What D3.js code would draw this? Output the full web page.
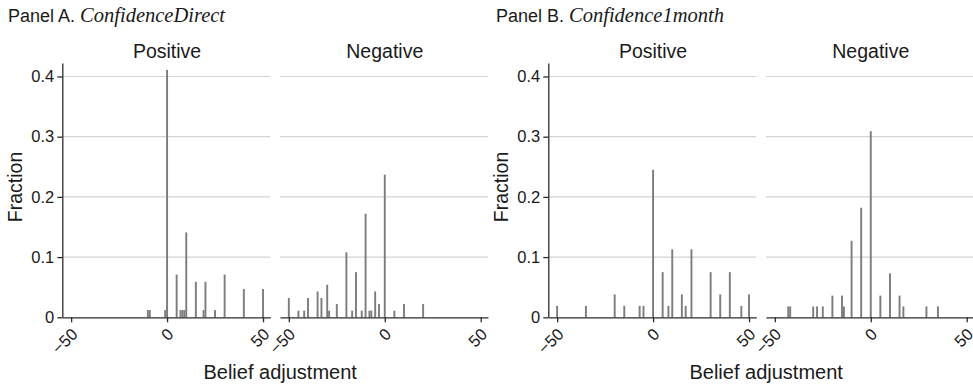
<!DOCTYPE html>
<html>
<head>
<meta charset="utf-8">
<script src="https://cdn.jsdelivr.net/npm/d3@7"></script>
<style>
  html, body { margin: 0; padding: 0; background: #fff; }
  svg { display: block; }
  text { font-family: "Liberation Sans", Arial, Helvetica, sans-serif; fill: #1a1a1a; }
</style>
</head>
<body>
<svg id="chart" width="973" height="388"></svg>
<script>
// ---- Data ----
const xTicks = [-50, 0, 50];
const yTicks = [0, 0.1, 0.2, 0.3, 0.4];
const groups = ["Positive", "Negative"];

// Panel A. ConfidenceDirect
const aPosX = [-10, -9, -1, 0, 5, 7, 8, 9, 10, 15, 19, 20, 25, 30, 40, 50];
const aPosY = [0.012, 0.012, 0.012, 0.411, 0.071, 0.012, 0.012, 0.012, 0.141, 0.059, 0.012, 0.059, 0.012, 0.071, 0.047, 0.047];
const aNegX = [-50, -45, -42, -40, -35, -33, -30, -29, -25, -20, -17, -15, -12, -10, -8, -7, -5, -3, 0, 5, 10, 20];
const aNegY = [0.032, 0.011, 0.011, 0.032, 0.043, 0.032, 0.054, 0.011, 0.022, 0.108, 0.011, 0.075, 0.011, 0.172, 0.011, 0.011, 0.043, 0.022, 0.237, 0.011, 0.022, 0.022];

// Panel B. Confidence1month
const bPosX = [-50, -35, -20, -15, -7, -5, 0, 5, 8, 10, 15, 17, 20, 30, 35, 40, 46, 50];
const bPosY = [0.019, 0.019, 0.038, 0.019, 0.019, 0.019, 0.245, 0.075, 0.019, 0.113, 0.038, 0.019, 0.113, 0.075, 0.038, 0.075, 0.019, 0.038];
const bNegX = [-43, -42, -30, -28, -25, -20, -15, -14, -10, -5, 0, 5, 10, 15, 17, 29, 35];
const bNegY = [0.018, 0.018, 0.018, 0.018, 0.018, 0.036, 0.036, 0.018, 0.127, 0.182, 0.309, 0.036, 0.073, 0.036, 0.018, 0.018, 0.018];

const panels = [
  { prefix: "Panel A. ", name: "ConfidenceDirect", left: 62.3, titleX: 8, series: [[aPosX, aPosY], [aNegX, aNegY]] },
  { prefix: "Panel B. ", name: "Confidence1month", left: 548.3, titleX: 496, series: [[bPosX, bPosY], [bNegX, bNegY]] }
];

// ---- Layout ----
const subW = 208, subGap = 9.7;
const yBase = 317.3, yTop = 63;
const xDomain = [-54.6, 53.8];
const barColor = "#7d7d7d", gridColor = "#d3d3d3", axisColor = "#2b2b2b";

const svg = d3.select("#chart");
const y = d3.scaleLinear().domain([0, 0.4224]).range([yBase, yTop]);

panels.forEach(p => {
  const g = svg.append("g");
  // Panel title
  const t = g.append("text").attr("x", p.titleX).attr("y", 22).style("font-size", "18px");
  t.append("tspan").text(p.prefix);
  t.append("tspan").text(p.name)
    .style("font-family", '"Liberation Serif", "Times New Roman", serif')
    .style("font-style", "italic").style("font-size", "20.5px");

  const subs = [];
  groups.forEach((name, i) => {
    const x0 = p.left + i * (subW + subGap);
    const x = d3.scaleLinear().domain(xDomain).range([x0, x0 + subW]);
    subs.push(x);
    const sg = g.append("g");

    // gridlines
    sg.selectAll("line.grid").data(yTicks.filter(d => d > 0)).join("line")
      .attr("x1", x0).attr("x2", x0 + subW)
      .attr("y1", d => y(d)).attr("y2", d => y(d))
      .attr("stroke", gridColor).attr("stroke-width", 1.2);

    // bars
    const [xs, ys] = p.series[i];
    const data = xs.map((v, k) => ({ v, f: ys[k] }));
    sg.selectAll("rect").data(data).join("rect")
      .attr("x", d => x(d.v - 0.5))
      .attr("width", d => x(d.v + 0.5) - x(d.v - 0.5))
      .attr("y", d => y(d.f))
      .attr("height", d => y(0) - y(d.f))
      .attr("fill", barColor);

    // x axis
    const ax = sg.append("g").attr("transform", `translate(0,${yBase})`)
      .call(d3.axisBottom(x).tickValues(xTicks).tickSize(5).tickSizeOuter(0).tickFormat(d => d < 0 ? "\u2212" + Math.abs(d) : d));
    ax.select(".domain").attr("stroke", axisColor).attr("stroke-width", 1.3);
    ax.selectAll(".tick line").attr("stroke", axisColor).attr("stroke-width", 1.3);
    ax.selectAll(".tick text")
      .attr("y", 0).attr("dy", 0)
      .attr("transform", "translate(7,18) rotate(-45)")
      .attr("text-anchor", "end")
      .style("font-size", "16.5px").style("font-family", '"Liberation Sans", Arial, sans-serif').attr("fill", "#1a1a1a");

    // subtitle
    sg.append("text").attr("x", x(0)).attr("y", 58)
      .attr("text-anchor", "middle").style("font-size", "19.5px").text(name);
  });

  // y axis on first sub-panel
  const ay = g.append("g").attr("transform", `translate(${p.left},0)`)
    .call(d3.axisLeft(y).tickValues(yTicks).tickSize(5).tickSizeOuter(0).tickFormat(d => d === 0 ? "0" : d3.format(".1f")(d)));
  ay.select(".domain").attr("stroke", axisColor).attr("stroke-width", 1.3);
  ay.selectAll(".tick line").attr("stroke", axisColor).attr("stroke-width", 1.3);
  ay.selectAll(".tick text").attr("x", -8).style("font-size", "16.5px")
    .style("font-family", '"Liberation Sans", Arial, sans-serif').attr("fill", "#1a1a1a");

  // y title
  g.append("text").attr("transform", `translate(${p.left - 40},187) rotate(-90)`)
    .attr("text-anchor", "middle").style("font-size", "19.5px").text("Fraction");

  // x title
  const mid = (subs[0].range()[0] + subs[1].range()[1]) / 2;
  g.append("text").attr("x", mid + 5).attr("y", 379)
    .attr("text-anchor", "middle").style("font-size", "20px").text("Belief adjustment");
});
</script>
</body>
</html>
